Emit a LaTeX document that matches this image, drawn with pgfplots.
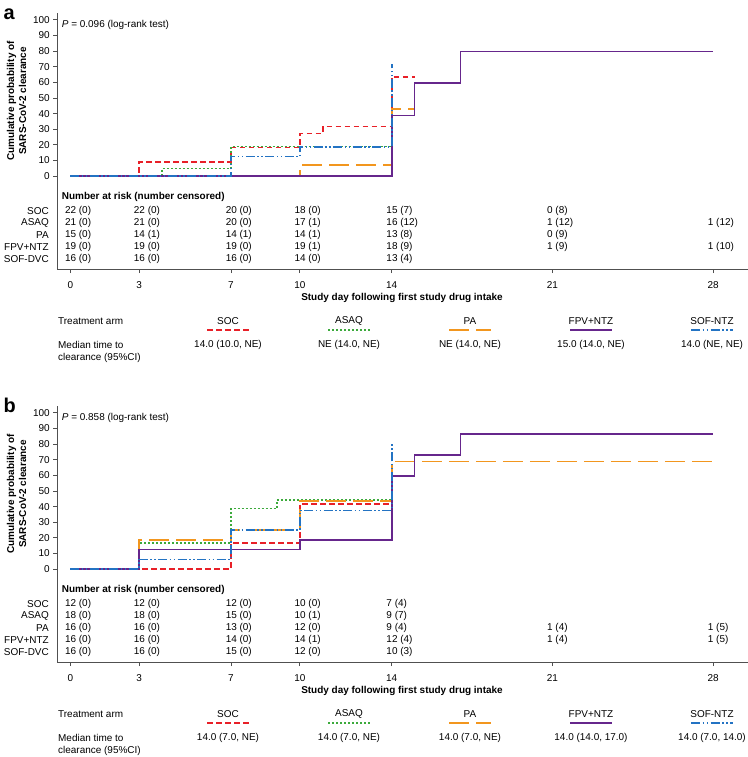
\documentclass[border=0pt]{standalone}
\usepackage{fontspec}
\setmainfont{Liberation Sans}
\usepackage{pgfplots}
\pgfplotsset{compat=1.18}

\definecolor{cSOC}{RGB}{232,32,40}
\definecolor{cASAQ}{RGB}{60,170,60}
\definecolor{cPA}{RGB}{242,150,30}
\definecolor{cFPV}{RGB}{102,38,140}
\definecolor{cSOF}{RGB}{35,115,195}
\definecolor{axgray}{RGB}{80,80,80}

\newcommand\f{\fontsize{10}{12}\selectfont}

\tikzset{
 socst/.style={draw=cSOC, line width=1.6bp, dash pattern=on 5.5bp off 3.5bp},
 asaqst/.style={draw=cASAQ, line width=1.6bp, dash pattern=on 2bp off 2bp},
 past/.style={draw=cPA, line width=1.6bp, dash pattern=on 20bp off 7bp},
 fpvst/.style={draw=cFPV, line width=1.6bp},
 sofst/.style={draw=cSOF, line width=1.6bp, dash pattern=on 9bp off 2.5bp on 1.5bp off 2.5bp on 1.5bp off 2.5bp},
}

\pgfplotsset{km/.style={
  scale only axis, width=690.7bp, height=256bp,
  xmin=-0.566, xmax=29.52, ymin=-59.5, ymax=104.4,
  axis x line*=bottom, axis y line*=left,
  every outer x axis line/.append style={-},
  every outer y axis line/.append style={-},
  every inner x axis line/.append style={-},
  every inner y axis line/.append style={-},
  axis line style={draw=axgray, line width=1bp},
  xtick={0,3,7,10,14,21,28}, ytick={0,10,...,100},
  tick align=outside, major tick length=4bp,
  tick style={draw=axgray, line width=0.8bp},
  ticklabel style={font=\f},
  /pgf/number format/assume math mode=true,
  xticklabel style={yshift=-5bp},
  clip=false,
}}

\def\yH{-13.2}
\def\yA{-22.2}
\def\yB{-29.9}
\def\yC{-37.6}
\def\yD{-45.3}
\def\yE{-53.0}

\newcommand\rr[3]{\node[anchor=west,inner sep=0pt,font=\f] at (axis cs:#1-0.236,#2) {#3};}
\newcommand\rowlabels{%
  \node[anchor=west,inner sep=0pt,font=\bfseries\f] at (axis cs:-0.375,\yH) {Number at risk (number censored)};
  \node[anchor=east,inner sep=0pt,font=\f] at (axis cs:-0.928,\yA) {SOC};
  \node[anchor=east,inner sep=0pt,font=\f] at (axis cs:-0.928,\yB) {ASAQ};
  \node[anchor=east,inner sep=0pt,font=\f] at (axis cs:-0.928,\yC) {PA};
  \node[anchor=east,inner sep=0pt,font=\f] at (axis cs:-0.928,\yD) {FPV+NTZ};
  \node[anchor=east,inner sep=0pt,font=\f] at (axis cs:-0.928,\yE) {SOF-DVC};
}

\newcommand\panelextras[7]{%
\begin{scope}[yshift=-#1bp]
  \node[anchor=base west, inner sep=0pt, font=\bfseries\fontsize{20}{24}\selectfont] at (3.5bp,-19bp) {#2};
  \node[rotate=90, align=center, inner sep=0pt, font=\bfseries\f] at (16.5bp,-101bp) {Cumulative probability of\\SARS-CoV-2 clearance};
  \node[inner sep=0pt, font=\bfseries\f] at (402bp,-298bp) {Study day following first study drug intake};
  \node[anchor=west, inner sep=0pt, font=\f] at (58bp,-321bp) {Treatment arm};
  \node[inner sep=0pt, font=\f] at (228bp,-321bp) {SOC};
  \node[inner sep=0pt, font=\f] at (349bp,-321bp) {ASAQ};
  \node[inner sep=0pt, font=\f] at (470bp,-321bp) {PA};
  \node[inner sep=0pt, font=\f] at (591bp,-321bp) {FPV+NTZ};
  \node[inner sep=0pt, font=\f] at (712bp,-321bp) {SOF-NTZ};
  \draw[socst] (207bp,-330bp) -- (249bp,-330bp);
  \draw[asaqst] (328bp,-330bp) -- (370bp,-330bp);
  \draw[past] (449bp,-330bp) -- (491bp,-330bp);
  \draw[fpvst] (570bp,-330bp) -- (612bp,-330bp);
  \draw[sofst] (691bp,-330bp) -- (733bp,-330bp);
  \node[anchor=west, inner sep=0pt, font=\f] at (58bp,-345bp) {Median time to};
  \node[anchor=west, inner sep=0pt, font=\f] at (58bp,-358bp) {clearance (95\%CI)};
  \node[inner sep=0pt, font=\f] at (228bp,-345bp) {#3};
  \node[inner sep=0pt, font=\f] at (349bp,-345bp) {#4};
  \node[inner sep=0pt, font=\f] at (470bp,-345bp) {#5};
  \node[inner sep=0pt, font=\f] at (591bp,-345bp) {#6};
  \node[inner sep=0pt, font=\f] at (712bp,-345bp) {#7};
\end{scope}}

\begin{document}
\begin{tikzpicture}
\useasboundingbox (0,0) rectangle (748bp,-757bp);

% ---------------- panel a ----------------
\begin{axis}[km, at={(57.3bp,-269bp)}, anchor=south west]
\addplot[socst, const plot] coordinates {(0,0)(3,9.1)(7,18.2)(10,27.3)(11,31.8)(14,63.6)(15,63.6)};
\addplot[asaqst, const plot] coordinates {(0,0)(4,4.8)(7,19.0)(14,42.0)};
\addplot[past, const plot] coordinates {(0,0)(10,7.1)(14,42.9)(14.95,42.9)};
\addplot[fpvst, const plot] coordinates {(0,0)(14,38.9)(15,59.4)(17,79.7)(28,79.7)};
\addplot[sofst, const plot] coordinates {(0,0)(7,12.5)(10,18.8)(14,71.9)};
\node[anchor=west,inner sep=0pt,font=\f] at (axis cs:-0.375,97) {\textit{P} = 0.096 (log-rank test)};
\rowlabels
\rr{0}{\yA}{22 (0)}\rr{3}{\yA}{22 (0)}\rr{7}{\yA}{20 (0)}\rr{10}{\yA}{18 (0)}\rr{14}{\yA}{15 (7)}\rr{21}{\yA}{0 (8)}
\rr{0}{\yB}{21 (0)}\rr{3}{\yB}{21 (0)}\rr{7}{\yB}{20 (0)}\rr{10}{\yB}{17 (1)}\rr{14}{\yB}{16 (12)}\rr{21}{\yB}{1 (12)}\rr{28}{\yB}{1 (12)}
\rr{0}{\yC}{15 (0)}\rr{3}{\yC}{14 (1)}\rr{7}{\yC}{14 (1)}\rr{10}{\yC}{14 (1)}\rr{14}{\yC}{13 (8)}\rr{21}{\yC}{0 (9)}
\rr{0}{\yD}{19 (0)}\rr{3}{\yD}{19 (0)}\rr{7}{\yD}{19 (0)}\rr{10}{\yD}{19 (1)}\rr{14}{\yD}{18 (9)}\rr{21}{\yD}{1 (9)}\rr{28}{\yD}{1 (10)}
\rr{0}{\yE}{16 (0)}\rr{3}{\yE}{16 (0)}\rr{7}{\yE}{16 (0)}\rr{10}{\yE}{14 (0)}\rr{14}{\yE}{13 (4)}
\end{axis}
\panelextras{0}{a}{14.0 (10.0, NE)}{NE (14.0, NE)}{NE (14.0, NE)}{15.0 (14.0, NE)}{14.0 (NE, NE)}

% ---------------- panel b ----------------
\begin{axis}[km, at={(57.3bp,-662bp)}, anchor=south west]
\addplot[socst, const plot] coordinates {(0,0)(7,16.7)(10,41.7)(14,58.3)};
\addplot[asaqst, const plot] coordinates {(0,0)(3,16.7)(7,38.9)(9,44.4)(14,55.6)};
\addplot[past, const plot] coordinates {(0,0)(3,18.75)(7,25)(10,43.75)(14,68.75)(28,68.75)};
\addplot[fpvst, const plot] coordinates {(0,0)(3,12.5)(10,18.75)(14,59.4)(15,72.9)(17,86.4)(28,86.4)};
\addplot[sofst, const plot] coordinates {(0,0)(3,6.25)(7,25)(10,37.5)(14,80)};
\node[anchor=west,inner sep=0pt,font=\f] at (axis cs:-0.375,97) {\textit{P} = 0.858 (log-rank test)};
\rowlabels
\rr{0}{\yA}{12 (0)}\rr{3}{\yA}{12 (0)}\rr{7}{\yA}{12 (0)}\rr{10}{\yA}{10 (0)}\rr{14}{\yA}{7 (4)}
\rr{0}{\yB}{18 (0)}\rr{3}{\yB}{18 (0)}\rr{7}{\yB}{15 (0)}\rr{10}{\yB}{10 (1)}\rr{14}{\yB}{9 (7)}
\rr{0}{\yC}{16 (0)}\rr{3}{\yC}{16 (0)}\rr{7}{\yC}{13 (0)}\rr{10}{\yC}{12 (0)}\rr{14}{\yC}{9 (4)}\rr{21}{\yC}{1 (4)}\rr{28}{\yC}{1 (5)}
\rr{0}{\yD}{16 (0)}\rr{3}{\yD}{16 (0)}\rr{7}{\yD}{14 (0)}\rr{10}{\yD}{14 (1)}\rr{14}{\yD}{12 (4)}\rr{21}{\yD}{1 (4)}\rr{28}{\yD}{1 (5)}
\rr{0}{\yE}{16 (0)}\rr{3}{\yE}{16 (0)}\rr{7}{\yE}{15 (0)}\rr{10}{\yE}{12 (0)}\rr{14}{\yE}{10 (3)}
\end{axis}
\panelextras{393}{b}{14.0 (7.0, NE)}{14.0 (7.0, NE)}{14.0 (7.0, NE)}{14.0 (14.0, 17.0)}{14.0 (7.0, 14.0)}
\end{tikzpicture}
\end{document}
